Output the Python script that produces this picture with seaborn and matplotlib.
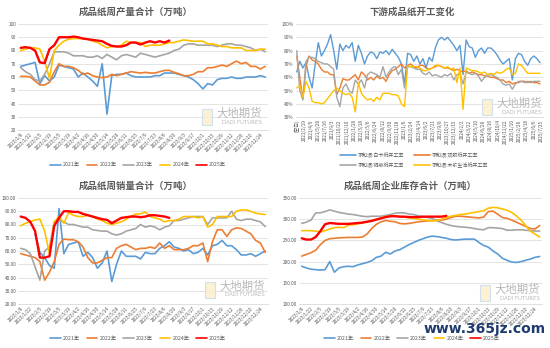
import numpy as np
import pandas as pd
import matplotlib
matplotlib.use("Agg")
import matplotlib.pyplot as plt
import seaborn as sns
from matplotlib.lines import Line2D
from matplotlib.patches import Rectangle

sns.set_style("white")
plt.rcParams['font.family'] = ['Noto Sans CJK SC', 'DejaVu Sans']

# ---------------- data ----------------
years = ["2021年", "2022年", "2023年", "2024年", "2025年"]
year_colors = ["#5B9BD5", "#ED7D31", "#A5A5A5", "#FFC000", "#FF0000"]

week_labels = ["2023/1/8", "2023/1/22", "2023/2/5", "2023/2/19", "2023/3/5", "2023/3/19",
               "2023/4/2", "2023/4/16", "2023/4/30", "2023/5/14", "2023/5/28", "2023/6/11",
               "2023/6/25", "2023/7/9", "2023/7/23", "2023/8/6", "2023/8/20", "2023/9/3",
               "2023/9/17", "2023/10/1", "2023/10/15", "2023/10/29", "2023/11/12",
               "2023/11/26", "2023/12/10", "2023/12/24"]

# 成品纸周产量合计
prod_2021 = [68, 69, 70, 71, 55, 61, 57, 60, 69, 68, 67, 66, 60, 63, 60, 57, 53, 70, 32, 61,
             62, 62, 63, 61, 60, 60, 60, 60, 61, 61, 63, 63, 63, 62, 61, 60, 58, 55, 51, 55,
             54, 58, 59, 59, 60, 59, 59, 60, 60, 60, 61, 60]
prod_2022 = [60.5, 60.5, 60, 57, 54, 54, 56, 64, 70, 68, 68, 67, 65, 62, 63, 61, 60, 59.5, 60, 62,
             61, 62, 63, 64, 63.5, 63, 63.5, 63, 63, 64, 65, 65, 63.5, 62.5, 61, 61, 62, 64, 64, 67,
             67, 68, 69, 68, 70, 72, 70, 71, 68, 68, 66, 68]
prod_2023 = [67, 64, 62, 58, 57, 62, 70, 79, 79, 79, 78, 76, 76, 76, 75, 75, 76, 74, 77, 75,
             73, 76, 77, 76, 75, 78, 77, 76, 75, 76, 77, 78, 80, 81, 84, 85, 85, 84, 84, 84,
             84, 83, 84, 85, 85, 84, 84, 83, 82, 80, 81, 79]
prod_2024 = [80, 81, 82, 82, 81, 72, 59, 80, 84, 87, 88.5, 89, 89, 89, 88.5, 87, 86, 84, 82, 83,
             83, 84, 87, 86, 86, 86, 83, 84, 84, 84, 85, 86, 86, 87, 88, 87.5, 87, 87, 87, 85,
             85, 84, 83, 83, 82, 82, 82, 80, 80, 80, 81, 81]
prod_2025 = [82, 82.5, 82, 80, 71, 70.5, 81, 84, 90, 90, 90, 90.5, 90, 89, 88.5, 88, 87.5, 87,
             85, 83.5, 83, 83, 84, 86, 86, 84.5, 86, 87, 86, 87, 86, 87.5]

# 成品纸周销量合计
sales_2021 = [np.nan, np.nan, np.nan, 73, 59, 55, 49, 47, 92, 58, 65, 66, 67, 56, 59, 55, 47, 51,
              60, 37, 50, 60, 56, 56, 56, 54, 59, 58, 58, 62, 64, 67, 63, 62, 60, 61, 58, 59, 62,
              57, 64, 65, 68, 64, 64, 61, 57, 57, 58, 56, 58, 60]
sales_2022 = [58, 57, 56, 55, 52, 38, 44, 52, 65, 69, 68.5, 68.5, 67, 63, 55, 51, 51, 53, 55, 55,
              62, 64, 65, 63, 61, 62, 62, 63, 62, 66, 62, 64, 61, 61, 61, 62, 64, 64, 66, 52,
              67, 76, 76, 71, 76, 77.5, 77, 75, 73, 68, 66, 59]
sales_2023 = [62, 61, 58, 48, 38, 60, 63, 82, 83, 82, 80, 80, 79, 78, 78, 76, 75.5, 75, 75, 73,
              72, 73, 75, 76, 77, 80, 78, 79, 78, 76, 78, 79, 83, 83, 84, 85, 86, 86, 86, 80,
              85, 85, 85, 85, 90, 84, 83, 84, 84, 83, 82, 78.5]
sales_2024 = [79, 81, 82, 83.5, 84, 75, 58, 82, 86, 81, 89, 87, 86, 86, 87, 86, 84, 83, 81, 80,
              81, 82, 84, 86, 88, 88, 89.5, 86, 85, 84, 82, 83, 83, 84, 86, 86, 86, 85, 86, 78,
              80, 86, 86, 86, 86, 90, 91, 91, 90, 88.5, 88, 87.5]
sales_2025 = [86, 85, 82, 75, 55, 55, 56, 79, 85, 90, 90, 89.5, 89.5, 88, 87, 86, 85, 84, 83.5,
              81, 83, 85, 85.5, 86, 86, 85.5, 86, 87, 87, 86.5, 86, 85]

# 成品纸周企业库存合计
inv_2021 = [189, 185, 182, 181, 180, 181, 200, 175, 185, 188, 189, 188, 192, 195, 198, 202, 210,
            213, 222, 218, 225, 228, 234, 240, 245, 250, 254, 258, 260, 259, 257, 255, 252, 251,
            252, 253, 253, 253, 245, 238, 234, 225, 218, 208, 203, 199, 198, 200, 203, 206, 210, 212]
inv_2022 = [213, 217, 221, 227, 240, 250, 254, 255, 256, 256.5, 257, 257, 257, 258, 265, 278, 288,
            294, 297, 295, 294, 290, 289, 290, 292, 294, 295, 296, 297, 298, 298, 300, 304, 307,
            307, 306, 305, 304, 303, 305, 318, 319, 312, 304, 302, 298, 293, 288, 283, 278, 277, 285]
inv_2023 = [290, 293, 298, 315, 315, 318, 322, 319, 316, 314, 312, 311, 309, 307, 306, 307, 307,
            307, 309, 311, 314, 315, 315, 312, 311, 308, 306, 304, 302, 296, 292, 288, 285, 283,
            282, 281, 280, 278, 276, 275, 280, 280, 279, 278, 274, 274, 275, 275, 274, 273, 272, 272]
inv_2024 = [273, 273, 273, 272, 270, 273, 277, 280, 281, 280, 286, 287, 289, 291, 294, 297, 300,
            303, 306, 308, 308, 307, 305, 303, 302, 300, 298, 297, 296, 297, 300, 304, 307, 309,
            311, 312, 314, 316, 318, 320, 326, 328, 327, 324, 321, 316, 308, 298, 285, 272, 265, 258]
inv_2025 = [255, 252, 252, 258, 272, 288, 291, 290, 289, 289, 289, 290, 291, 292, 294, 296, 299,
            302, 305, 307, 307, 306, 306, 305, 305, 305, 306, 306, 306, 306, 306, 308]

# 下游成品纸开工变化 (sampled every 3 weeks, %)
rate_names = ["求和项:白卡纸开工率", "求和项:双胶纸开工率", "求和项:铜版纸开工率", "求和项:木浆生活纸开工率"]
rate_colors = ["#5B9BD5", "#ED7D31", "#A5A5A5", "#FFC000"]
rate_step = 3
rate_white = [64, 72, 67, 71, 60, 52, 70, 86, 76, 80, 85, 92, 80, 66, 85, 80, 84, 82, 86, 72,
              84, 78, 70, 76, 79, 78, 74, 79, 78, 80, 77, 81, 78, 75, 70, 55, 78, 77, 72, 76,
              70, 74, 67, 75, 72, 82, 88, 90, 88, 90, 87, 84, 80, 84, 62, 88, 83, 82, 75, 80,
              82, 78, 82, 82, 80, 77, 73, 70, 72, 74, 58, 74, 78, 77, 72, 69, 74, 76, 74, 71]
rate_offset = [76, 60, 44, 68, 76, 73, 72, 70, 66, 64, 64, 62, 62, 47, 52, 59, 58, 58, 60, 62,
               58, 64, 62, 58, 60, 58, 61, 59, 60, 57, 62, 65, 66, 68, 70, 67, 69, 70, 68, 67,
               69, 69, 67, 66, 67, 68, 69, 68, 67, 67, 66, 65, 66, 65, 64, 65, 63, 64, 63, 62,
               62, 61, 61, 60, 60, 59, 58, 58, 56, 57, 55, 56, 56, 57, 57, 56, 57, 56, 56, 55]
rate_coated = [80, 50, 43, 72, 75, 75, 74, 72, 71, 70, 70, 68, 66, 45, 38, 52, 55, 50, 48, 58,
               55, 58, 52, 62, 64, 63, 62, 60, 68, 60, 64, 67, 68, 62, 66, 52, 68, 68, 67, 66,
               66, 63, 62, 64, 61, 62, 61, 60, 62, 61, 63, 58, 62, 63, 55, 64, 63, 62, 63, 61,
               57, 60, 62, 62, 61, 60, 58, 55, 54, 55, 51, 55, 57, 57, 56, 57, 56, 57, 57, 57]
rate_tissue = [52, 54, 45, 57, 52, 42, 41, 41, 40, 41, 44, 47, 50, 52, 50, 48, 47, 48, 45, 34,
               56, 48, 45, 43, 44, 42, 45, 43, 48, 48, 48, 47, 47, 46, 40, 38, 69, 68, 68, 68,
               67, 65, 65, 66, 67, 69, 69, 68, 67, 68, 66, 67, 56, 67, 36, 67, 66, 65, 65, 64,
               63, 64, 62, 63, 62, 64, 63, 64, 66, 67, 62, 63, 70, 69, 66, 63, 63, 63, 63, 63]
rate_tick_labels = ["(空白)", "2021/2/19", "2021/4/9", "2021/5/28", "2021/7/16", "2021/9/3",
                    "2021/10/22", "2021/12/10", "2022/1/28", "2022/3/18", "2022/5/6", "2022/6/24",
                    "2022/8/12", "2022/9/30", "2022/11/18", "2023/1/6", "2023/2/24", "2023/4/14",
                    "2023/6/2", "2023/7/21", "2023/9/8", "2023/10/27", "2023/12/15", "2024/2/2",
                    "2024/3/22", "2024/5/10", "2024/6/28", "2024/8/16", "2024/10/4", "2024/11/22",
                    "2025/1/10", "2025/2/28", "2025/4/18", "2025/6/6", "2025/7/25"]
rate_tick_every = 7

titles = ["成品纸周产量合计（万吨）", "下游成品纸开工变化", "成品纸周销量合计（万吨）", "成品纸周企业库存合计（万吨）"]

# ---------------- figure ----------------
W, H = 550, 348
fig = plt.figure(figsize=(W / 100, H / 100), dpi=100)

def px_ax(x0, y0, x1, y1):
    return fig.add_axes([x0 / W, 1 - y1 / H, (x1 - x0) / W, (y1 - y0) / H])

TXT = "#595959"
GRID = "#D9D9D9"

def style(ax):
    for s in ["top", "right", "left"]:
        ax.spines[s].set_visible(False)
    ax.spines["bottom"].set_color(GRID)
    ax.spines["bottom"].set_linewidth(0.6)
    ax.grid(axis="y", color=GRID, lw=0.5)
    ax.grid(axis="x", visible=False)
    ax.set_axisbelow(True)
    ax.tick_params(length=0, labelsize=3.4, colors=TXT, pad=1.5)
    ax.set_xlabel("")
    ax.set_ylabel("")

def year_panel(ax, series, ylim, ystep, fmt):
    for name, vals, col in zip(years, series, year_colors):
        df = pd.DataFrame({"week": np.arange(len(vals)), "value": vals})
        sns.lineplot(data=df, x="week", y="value", color=col,
                     lw=1.7 if name == "2025年" else 1.2, ax=ax, legend=False)
    ax.set_xlim(-0.5, 51.5)
    ax.set_ylim(*ylim)
    yt = np.arange(ylim[0], ylim[1] + 0.1, ystep)
    ax.set_yticks(yt)
    ax.set_yticklabels([fmt.format(v) for v in yt])
    ax.set_xticks(np.arange(len(week_labels)) * 2)
    ax.set_xticklabels(week_labels, rotation=45, ha="right", rotation_mode="anchor")
    style(ax)

def year_legend(xc, yc):
    hs = [Line2D([], [], color=c, lw=1.2) for c in year_colors]
    fig.legend(hs, years, loc="center", bbox_to_anchor=(xc / W, 1 - yc / H), ncol=5,
               frameon=False, fontsize=3.8, handlelength=2.0, handletextpad=0.4,
               columnspacing=1.3, labelcolor=TXT)

def title(text, xc, yc):
    fig.text(xc / W, 1 - yc / H, text, ha="center", va="center", fontsize=6.8,
             fontweight="bold", color=TXT)

def logo(xr, yc):
    fig.text(xr / W, 1 - yc / H, "大地期货", ha="right", va="center", fontsize=8.2,
             color="#A0A0A0", alpha=0.75, zorder=5)
    fig.text(xr / W, 1 - (yc + 9) / H, "DADI FUTURES", ha="right", va="center",
             fontsize=3.9, color="#A8A8A8", alpha=0.8, zorder=5, family="DejaVu Sans")
    fig.patches.append(Rectangle(((xr - 60) / W, 1 - (yc + 12) / H), 10 / W, 16 / H,
                                 transform=fig.transFigure, facecolor="#FCEFC8",
                                 edgecolor="#C9D9EE", lw=0.8, alpha=0.8, zorder=4))

# top-left: production
ax1 = px_ax(18.3, 24, 267.6, 130)
year_panel(ax1, [prod_2021, prod_2022, prod_2023, prod_2024, prod_2025], (20, 100), 10, "{:.0f}")
title(titles[0], 136, 12)
year_legend(138, 165)
logo(262, 113)

# bottom-left: sales
ax3 = px_ax(18.3, 198, 267.6, 304)
year_panel(ax3, [sales_2021, sales_2022, sales_2023, sales_2024, sales_2025], (20, 100), 10, "{:.2f}")
title(titles[2], 136, 186)
year_legend(138, 338)
logo(265, 286)

# bottom-right: inventory
ax4 = px_ax(299.4, 198, 542, 304)
year_panel(ax4, [inv_2021, inv_2022, inv_2023, inv_2024, inv_2025], (100, 350), 50, "{:.2f}")
title(titles[3], 410, 186)
year_legend(412, 338)
logo(540, 289)

# top-right: operating rates
ax2 = px_ax(295.7, 24, 543.1, 117.3)
for name, vals, col in zip(rate_names, [rate_white, rate_offset, rate_coated, rate_tissue], rate_colors):
    df = pd.DataFrame({"idx": np.arange(len(vals)) * rate_step, "value": vals})
    sns.lineplot(data=df, x="idx", y="value", color=col, lw=1.0, ax=ax2, legend=False)
ax2.set_xlim(-1, 240)
ax2.set_ylim(30, 100)
yt = np.arange(30, 101, 10)
ax2.set_yticks(yt)
ax2.set_yticklabels([f"{v}%" for v in yt])
ax2.set_xticks(np.arange(len(rate_tick_labels)) * rate_tick_every)
ax2.set_xticklabels(rate_tick_labels, rotation=90, ha="center", va="top")
style(ax2)
title(titles[1], 412, 12)
hs = [Line2D([], [], color=c, lw=1.2) for c in rate_colors]
order = [0, 2, 1, 3]
fig.legend([hs[i] for i in order], [rate_names[i] for i in order], loc="center",
           bbox_to_anchor=(414 / W, 1 - 160 / H), ncol=2, frameon=False, fontsize=3.6,
           handlelength=3.2, handletextpad=0.4, columnspacing=2.0, labelcolor=TXT,
           labelspacing=0.9)
logo(542, 103)

# site watermark
fig.text(485 / W, 1 - 329 / H, "www.365jz.com", ha="center", va="center", fontsize=10,
         fontweight="bold", color="#1E3A6E", family="DejaVu Sans", zorder=10)

fig.savefig("out.png", dpi=100)
